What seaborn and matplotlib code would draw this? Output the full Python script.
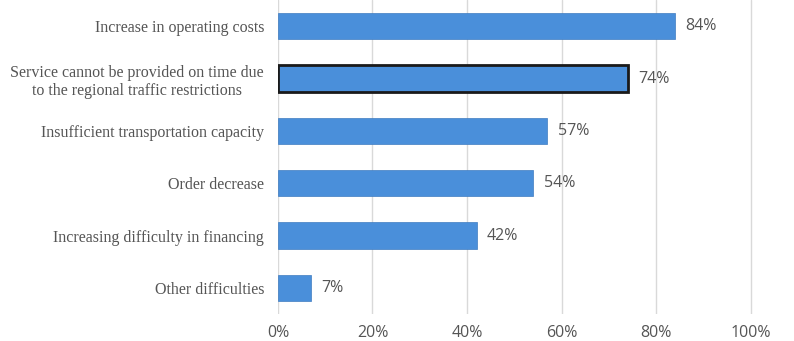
import matplotlib
matplotlib.use("Agg")
import matplotlib.pyplot as plt
import seaborn as sns
import pandas as pd

categories = [
    "Increase in operating costs",
    "Service cannot be provided on time due\nto the regional traffic restrictions",
    "Insufficient transportation capacity",
    "Order decrease",
    "Increasing difficulty in financing",
    "Other difficulties",
]
values = [84, 74, 57, 54, 42, 7]
tick_values = [0, 20, 40, 60, 80, 100]
tick_labels = ["0%", "20%", "40%", "60%", "80%", "100%"]

df = pd.DataFrame({"category": categories, "value": values})

sns.set_style("white")
fig = plt.figure(figsize=(7.94, 3.41), dpi=100)
ax = fig.add_axes([0.350, 0.079, 0.598, 0.921])

sns.barplot(data=df, x="value", y="category", orient="h", color="#4A8FDA",
            width=0.5, saturation=1, ax=ax, zorder=3)

for i, p in enumerate(ax.patches):
    p.set_edgecolor("#1a1a1a" if i == 1 else "#3F7CC0")
    p.set_linewidth(2.0 if i == 1 else 0.5)

for i, v in enumerate(values):
    ax.text(v + 2.2, i, f"{v}%", va="center", ha="left", fontsize=11.5,
            color="#555555", family="Open Sans")

ax.set_xlim(0, 100.4)
ax.set_ylim(5.5, -0.5)
ax.set_xticks(tick_values)
ax.set_xticklabels(tick_labels, fontsize=11.5, color="#555555", family="Open Sans")
ax.set_yticklabels(categories, fontsize=11.5, color="#555555", family="Liberation Serif")
for lab in ax.get_yticklabels():
    lab.set_multialignment("center")
ax.tick_params(axis="y", length=0, pad=10)
ax.tick_params(axis="x", length=0, pad=8)
ax.set_xlabel("")
ax.set_ylabel("")
ax.xaxis.grid(True, color="#D9D9D9", linewidth=1, zorder=0)
ax.set_axisbelow(True)
for s in ax.spines.values():
    s.set_visible(False)

fig.savefig("out.png", dpi=100)
